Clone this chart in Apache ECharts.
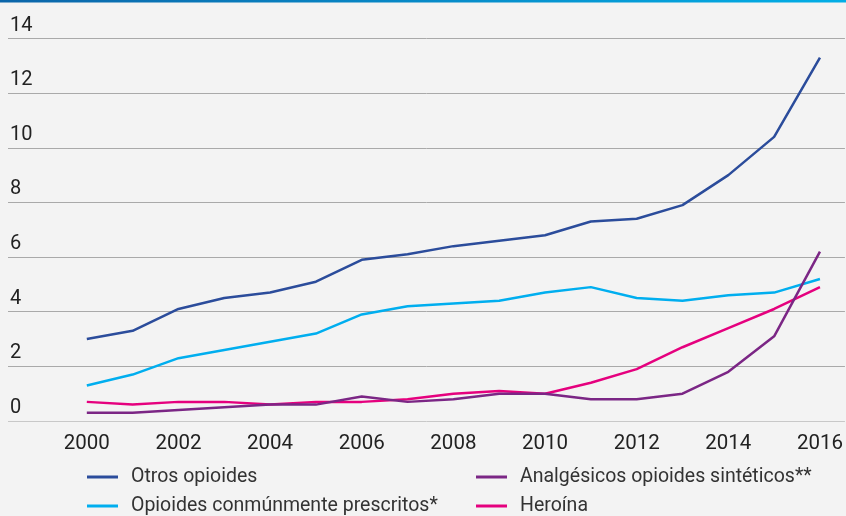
<!DOCTYPE html>
<html>
<head>
<meta charset="utf-8">
<script src="https://cdn.jsdelivr.net/npm/echarts@6/dist/echarts.min.js"></script>
<style>
  html, body { margin: 0; padding: 0; background: #f3f3f3; }
  #chart { width: 846px; height: 516px; }
</style>
</head>
<body>
<div id="chart"></div>
<script>
// Years on the horizontal axis
const years = [2000, 2001, 2002, 2003, 2004, 2005, 2006, 2007, 2008,
               2009, 2010, 2011, 2012, 2013, 2014, 2015, 2016];
const xTickLabels = [2000, 2002, 2004, 2006, 2008, 2010, 2012, 2014, 2016];

// Series values
const otrosOpioides = [3.0, 3.3, 4.1, 4.5, 4.7, 5.1, 5.9, 6.1, 6.4,
                       6.6, 6.8, 7.3, 7.4, 7.9, 9.0, 10.4, 13.3];
const opioidesPrescritos = [1.3, 1.7, 2.3, 2.6, 2.9, 3.2, 3.9, 4.2, 4.3,
                            4.4, 4.7, 4.9, 4.5, 4.4, 4.6, 4.7, 5.2];
const analgesicosSinteticos = [0.3, 0.3, 0.4, 0.5, 0.6, 0.6, 0.9, 0.7, 0.8,
                               1.0, 1.0, 0.8, 0.8, 1.0, 1.8, 3.1, 6.2];
const heroina = [0.7, 0.6, 0.7, 0.7, 0.6, 0.7, 0.7, 0.8, 1.0,
                 1.1, 1.0, 1.4, 1.9, 2.7, 3.4, 4.1, 4.9];

const names = {
  otros: 'Otros opioides',
  prescritos: 'Opioides conmúnmente prescritos*',
  sinteticos: 'Analgésicos opioides sintéticos**',
  heroina: 'Heroína'
};

const colors = {
  otros: '#2b4c9b',
  prescritos: '#00aeef',
  sinteticos: '#7b2685',
  heroina: '#e5007e'
};

const FONT = 'Roboto, "Liberation Sans", sans-serif';

function pairs(values) {
  return years.map((y, i) => [y, values[i]]);
}

function lineSeries(key, values) {
  return {
    name: names[key],
    type: 'line',
    data: pairs(values),
    showSymbol: false,
    symbol: 'none',
    lineStyle: { color: colors[key], width: 2.5 },
    itemStyle: { color: colors[key] },
    animation: false
  };
}

const legendCommon = {
  orient: 'vertical',
  top: 467,
  height: 49,
  padding: 0,
  icon: 'rect',
  itemWidth: 31,
  itemHeight: 3,
  itemGap: 9,
  textStyle: {
    fontFamily: FONT, fontSize: 19.5, lineHeight: 20, color: '#333',
    padding: [0, 0, 0, 8]
  },
  selectedMode: false
};

const chart = echarts.init(document.getElementById('chart'), null, { renderer: 'canvas' });

chart.setOption({
  backgroundColor: '#f3f3f3',
  animation: false,
  graphic: [{
    type: 'rect',
    left: 0, top: 0,
    shape: { width: 846, height: 2.5 },
    style: {
      fill: new echarts.graphic.LinearGradient(0, 0, 1, 0, [
        { offset: 0, color: '#0b65a9' },
        { offset: 1, color: '#02aee6' }
      ])
    },
    silent: true
  }],
  grid: { left: 8, right: 0, top: 38.5, bottom: 95, containLabel: false },
  xAxis: {
    type: 'value',
    min: 1998.28,
    max: 2016.545,
    axisLine: { show: false },
    axisTick: { show: false },
    splitLine: { show: false },
    axisLabel: {
      customValues: xTickLabels,
      fontFamily: FONT,
      fontSize: 20.5,
      color: '#222',
      margin: 12,
      formatter: v => String(v)
    }
  },
  yAxis: {
    type: 'value',
    min: 0,
    max: 14,
    interval: 2,
    axisLine: { show: false },
    axisTick: { show: false },
    axisLabel: {
      inside: true,
      align: 'left',
      verticalAlign: 'bottom',
      margin: 2,
      padding: [0, 0, 3, 0],
      fontFamily: FONT,
      fontSize: 20,
      color: '#222'
    },
    splitLine: {
      lineStyle: {
        color: ['#c8c8c8', '#a9a9a9', '#a9a9a9', '#a9a9a9', '#a9a9a9', '#a9a9a9', '#a9a9a9', '#a9a9a9'],
        width: 1
      }
    }
  },
  legend: [
    Object.assign({}, legendCommon, { left: 87, data: [names.otros, names.prescritos] }),
    Object.assign({}, legendCommon, { left: 476, data: [names.sinteticos, names.heroina] })
  ],
  series: [
    lineSeries('otros', otrosOpioides),
    lineSeries('prescritos', opioidesPrescritos),
    lineSeries('heroina', heroina),
    lineSeries('sinteticos', analgesicosSinteticos)
  ]
});
</script>
</body>
</html>
